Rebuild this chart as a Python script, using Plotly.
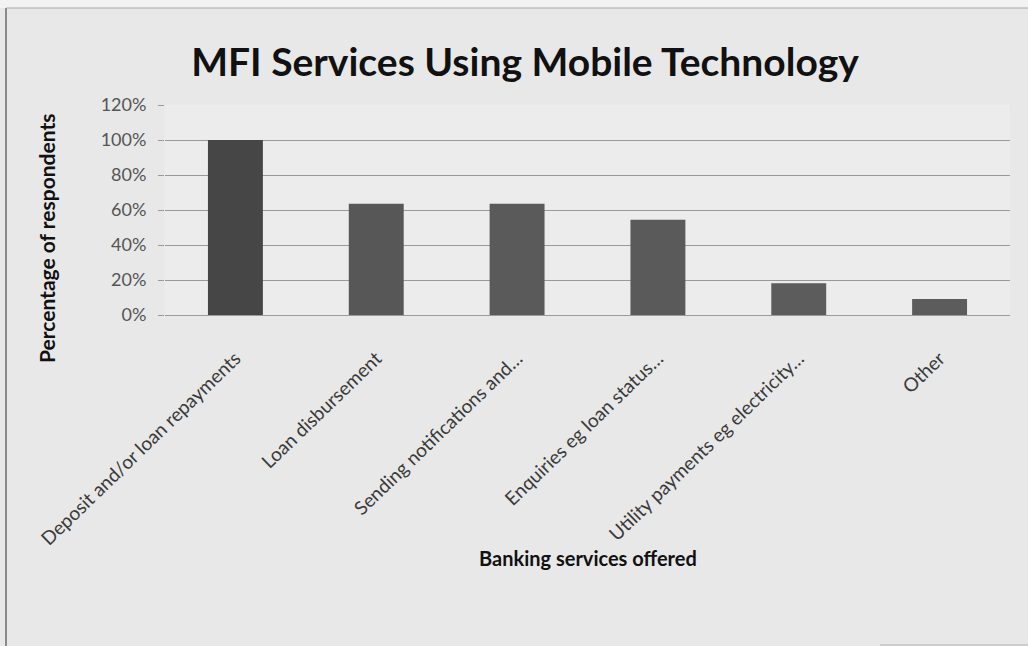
import plotly.graph_objects as go

# Survey results: share of MFIs offering each service via mobile technology
services = [
    "Deposit and/or loan repayments",
    "Loan disbursement",
    "Sending notifications and…",
    "Enquiries eg loan status…",
    "Utility payments eg electricity…",
    "Other",
]
percent_respondents = [100.0, 63.6, 63.6, 54.5, 18.2, 9.1]
y_tick_values = [0, 20, 40, 60, 80, 100, 120]
y_tick_labels = ["0%", "20%", "40%", "60%", "80%", "100%", "120%"]

bar_colors = ["#464646", "#575757", "#5a5a5a", "#5a5a5a", "#5c5c5c", "#5c5c5c"]

FONT = "Lato, 'Open Sans', sans-serif"

# Plot-area geometry in pixels (used to place frame and titles in paper units)
W, H = 1028, 646
L, R, T, B = 165, 18, 105, 331
PW, PH = W - L - R, H - T - B


def px_x(px):
    return (px - L) / PW


def px_y(py):
    return (H - B - py) / PH


fig = go.Figure(
    go.Bar(
        x=services,
        y=percent_respondents,
        marker=dict(color=bar_colors, line=dict(width=0)),
        width=0.39,
    )
)

fig.update_layout(
    width=W,
    height=H,
    margin=dict(l=L, r=R, t=T, b=B),
    paper_bgcolor="#e8e8e8",
    plot_bgcolor="#ececec",
    showlegend=False,
    font=dict(family=FONT, color="#333333"),
    title=dict(
        text="<b>MFI Services Using Mobile Technology</b>",
        x=px_x(525), xref="paper",
        xanchor="center",
        y=1 - 62 / H,
        yanchor="middle",
        font=dict(family=FONT, size=39, color="#111111"),
    ),
)

fig.update_xaxes(
    tickangle=-44,
    tickfont=dict(family=FONT, size=19, color="#3a3a3a"),
    ticklabelstandoff=24,
    showgrid=False,
    showline=True,
    linecolor="#9a9a9a",
    linewidth=1,
    ticks="",
)

fig.update_yaxes(
    range=[0, 120],
    tickvals=y_tick_values,
    ticktext=y_tick_labels,
    tickfont=dict(family=FONT, size=18, color="#555555"),
    ticklabelstandoff=8,
    showgrid=True,
    gridcolor="#999999",
    gridwidth=1,
    zeroline=False,
    showline=False,
    ticks="outside",
    ticklen=6,
    tickcolor="#999999",
)

# Axis titles
fig.add_annotation(
    text="<b>Banking services offered</b>",
    xref="paper", yref="paper",
    x=px_x(588), y=px_y(558),
    xanchor="center", yanchor="middle",
    showarrow=False,
    font=dict(family=FONT, size=20, color="#111111"),
)
fig.add_annotation(
    text="<b>Percentage of respondents</b>",
    xref="paper", yref="paper",
    x=px_x(46), y=px_y(238),
    xanchor="center", yanchor="middle",
    textangle=-90,
    showarrow=False,
    font=dict(family=FONT, size=21, color="#111111"),
)

# Frame around the chart area
fig.add_shape(type="rect", xref="paper", yref="paper",
              x0=px_x(0), x1=px_x(W), y0=px_y(8), y1=px_y(0),
              fillcolor="#f2f2f2", line=dict(width=0), layer="below")
fig.add_shape(type="line", xref="paper", yref="paper",
              x0=px_x(6), x1=px_x(6), y0=px_y(8), y1=px_y(H),
              line=dict(color="#8a8a8a", width=2))
fig.add_shape(type="line", xref="paper", yref="paper",
              x0=px_x(6), x1=px_x(W), y0=px_y(8), y1=px_y(8),
              line=dict(color="#a8a8a8", width=1))
fig.add_shape(type="line", xref="paper", yref="paper",
              x0=px_x(880), x1=px_x(W), y0=px_y(645), y1=px_y(645),
              line=dict(color="#b0b0b0", width=1))

fig.write_html("out.html")
